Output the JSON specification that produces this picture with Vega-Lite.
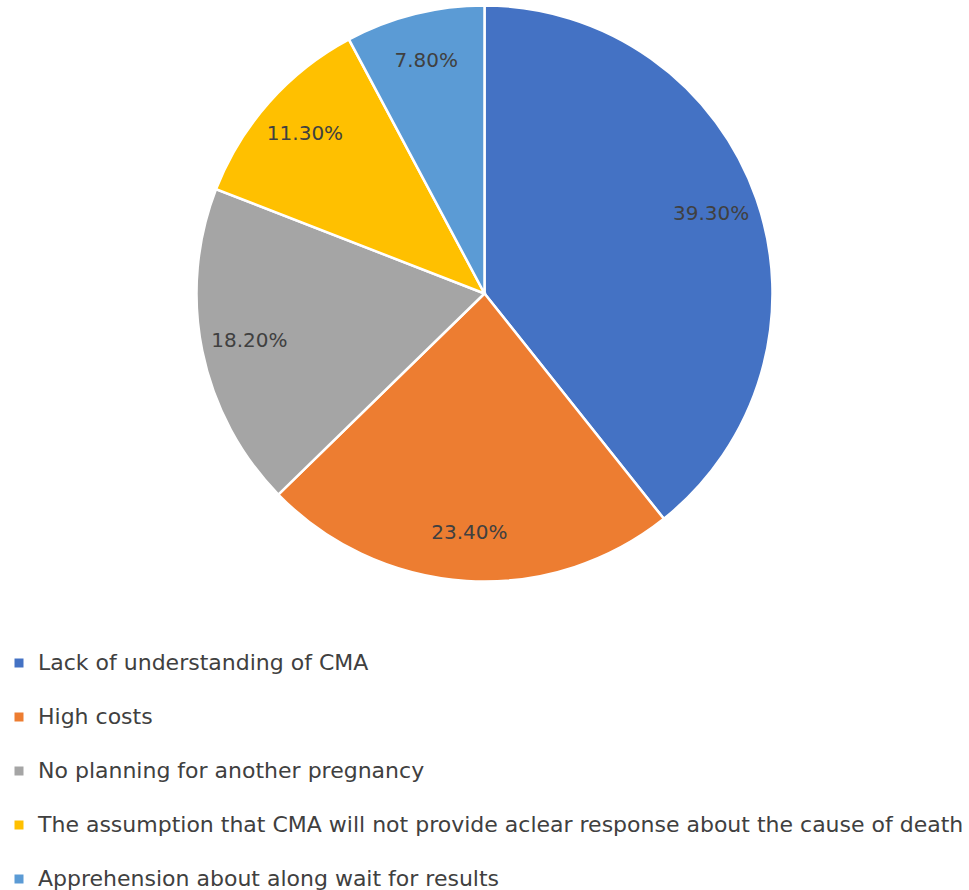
{
  "$schema": "https://vega.github.io/schema/vega-lite/v6.json",
  "width": 969,
  "height": 583,
  "padding": 0,
  "autosize": {"type": "pad"},
  "background": "white",
  "config": {
    "view": {"stroke": null},
    "font": "DejaVu Sans"
  },
  "data": {
    "values": [
      {"reason": "Lack of understanding of CMA", "pct": 39.3, "label": "39.30%", "rank": 1},
      {"reason": "High costs", "pct": 23.4, "label": "23.40%", "rank": 2},
      {"reason": "No planning for another pregnancy", "pct": 18.2, "label": "18.20%", "rank": 3},
      {"reason": "The assumption that CMA will not provide aclear response about the cause of death", "pct": 11.3, "label": "11.30%", "rank": 4},
      {"reason": "Apprehension about along wait for results", "pct": 7.8, "label": "7.80%", "rank": 5}
    ]
  },
  "encoding": {
    "theta": {"field": "pct", "type": "quantitative", "stack": true},
    "order": {"field": "rank", "type": "quantitative"}
  },
  "layer": [
    {
      "mark": {"type": "arc", "outerRadius": 288, "stroke": "white", "strokeWidth": 2.5},
      "encoding": {
        "color": {
          "field": "reason",
          "type": "nominal",
          "scale": {
            "domain": [
              "Lack of understanding of CMA",
              "High costs",
              "No planning for another pregnancy",
              "The assumption that CMA will not provide aclear response about the cause of death",
              "Apprehension about along wait for results"
            ],
            "range": ["#4472C4", "#ED7D31", "#A5A5A5", "#FFC000", "#5B9BD5"]
          },
          "legend": {
            "title": null,
            "orient": "none",
            "legendX": 8,
            "legendY": 650,
            "symbolType": "square",
            "symbolSize": 81,
            "symbolStrokeWidth": 0,
            "labelFontSize": 22,
            "labelColor": "#404040",
            "labelOffset": 8,
            "labelLimit": 1000,
            "rowPadding": 32,
            "labelFont": "DejaVu Sans"
          }
        }
      }
    },
    {
      "mark": {"type": "text", "radius": 240, "fontSize": 20, "color": "#404040", "font": "DejaVu Sans"},
      "encoding": {
        "text": {"field": "label", "type": "nominal"}
      }
    }
  ]
}
